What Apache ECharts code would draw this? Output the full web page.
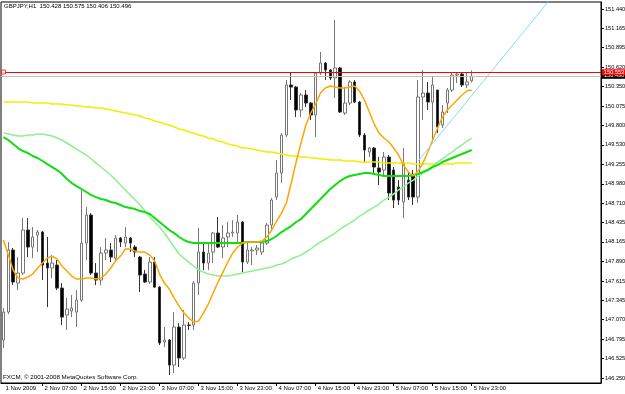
<!DOCTYPE html>
<html>
<head>
<meta charset="utf-8">
<script src="https://cdn.jsdelivr.net/npm/echarts@6/dist/echarts.min.js"></script>
<style>
html, body { margin: 0; padding: 0; background: #fff; }
#chart { width: 625px; height: 394px; }
</style>
</head>
<body>
<div id="chart"></div>
<script>
// GBPJPY H1, 1 Nov 23:00 .. 5 Nov 23:00 (97 bars)
var symbolName = 'GBPJPY,H1';

var opens = [
  146.784, 147.178, 148.050, 147.586, 147.726, 148.331, 148.092, 148.261, 148.303, 147.867,
  147.797, 147.839, 147.515, 147.136, 147.192, 147.178, 147.346, 148.148, 148.542, 147.726,
  147.628, 148.008, 148.050, 147.937, 148.219, 148.148, 148.219, 148.092, 147.951, 147.712,
  147.600, 147.881, 147.529, 146.756, 146.784, 146.432, 146.967, 146.531, 146.995, 146.995,
  147.586, 148.022, 147.867, 148.022, 148.289, 148.092, 148.233, 148.289, 148.289, 148.444,
  147.881, 148.036, 148.050, 148.022, 148.148, 148.401, 148.795, 149.133, 149.667, 150.371,
  150.342, 150.019, 150.230, 150.117, 149.949, 150.539, 150.680, 150.581, 150.469, 150.610,
  149.977, 150.117, 150.413, 150.131, 149.667, 149.428, 149.484, 149.203, 149.175, 149.358,
  149.175, 148.936, 148.725, 149.034, 149.105, 148.795, 150.202, 150.258, 150.131, 150.300,
  149.808, 150.117, 150.300, 150.511, 150.525, 150.371, 150.428
];
var closes = [
  147.178, 148.050, 147.600, 147.726, 148.331, 148.092, 148.233, 148.303, 147.839, 147.797,
  147.867, 147.515, 147.107, 147.220, 147.234, 147.346, 148.148, 148.542, 147.726, 147.628,
  148.008, 148.050, 147.951, 148.219, 148.162, 148.233, 148.148, 148.022, 147.698, 147.600,
  147.881, 147.529, 146.742, 146.784, 146.432, 146.967, 146.531, 146.995, 146.990, 147.586,
  148.022, 147.867, 148.008, 148.289, 148.092, 148.219, 148.289, 148.303, 148.444, 147.881,
  148.050, 148.050, 148.078, 148.148, 148.401, 148.753, 149.133, 149.667, 150.371, 150.342,
  150.019, 150.230, 150.117, 149.949, 150.539, 150.680, 150.581, 150.469, 150.610, 149.991,
  150.117, 150.413, 150.131, 149.667, 149.456, 149.484, 149.217, 149.147, 149.358, 148.851,
  148.753, 148.753, 149.273, 148.795, 148.795, 150.202, 150.258, 150.131, 150.371, 149.780,
  149.991, 150.300, 150.511, 150.525, 150.371, 150.413, 150.496
];
var lows = [
  146.671, 147.150, 147.557, 147.487, 147.698, 147.951, 147.937, 148.022, 147.628, 147.248,
  147.656, 147.487, 146.995, 146.925, 147.107, 146.967, 147.318, 147.909, 147.698, 147.557,
  147.557, 147.909, 147.881, 147.909, 148.092, 148.092, 148.022, 147.951, 147.459, 147.586,
  147.572, 147.515, 146.714, 146.685, 146.292, 146.320, 146.404, 146.503, 146.925, 146.925,
  147.417, 147.768, 147.768, 147.867, 148.078, 147.937, 148.092, 148.233, 148.148, 147.740,
  147.853, 147.839, 147.979, 147.979, 148.120, 148.331, 148.753, 148.992, 149.639, 150.160,
  149.920, 149.920, 150.061, 149.878, 149.639, 150.511, 150.441, 150.441, 150.188, 149.977,
  149.949, 150.089, 150.117, 149.639, 149.273, 149.358, 149.105, 148.964, 149.077, 148.753,
  148.640, 148.683, 148.500, 148.753, 148.683, 148.711, 149.878, 150.019, 149.597, 149.695,
  149.766, 149.977, 150.272, 150.399, 150.342, 150.328, 150.406
];
var highs = [
  147.234, 148.162, 148.078, 147.951, 148.500, 148.500, 148.373, 148.331, 148.317, 148.233,
  147.979, 147.909, 147.586, 147.375, 147.417, 147.487, 148.894, 148.654, 148.570, 147.867,
  148.092, 148.219, 148.148, 148.261, 148.233, 148.373, 148.233, 148.120, 147.965, 147.768,
  147.951, 147.951, 147.543, 146.967, 146.798, 147.178, 147.023, 147.206, 147.037, 147.614,
  148.359, 148.148, 148.148, 148.303, 148.514, 148.401, 148.444, 148.472, 148.542, 148.458,
  148.148, 148.092, 148.120, 148.162, 148.429, 148.781, 149.316, 149.695, 150.441, 150.553,
  150.356, 150.258, 150.300, 150.131, 150.553, 150.835, 150.694, 150.596, 151.285, 150.624,
  150.342, 150.441, 150.441, 150.145, 149.695, 149.498, 149.498, 149.358, 149.428, 149.386,
  149.217, 149.034, 149.484, 149.147, 149.175, 150.441, 150.581, 150.413, 150.483, 150.300,
  150.089, 150.328, 150.539, 150.553, 150.539, 150.539, 150.575
];

// moving averages
var maOrange = [
  148.191, 147.979, 147.769, 147.656, 147.642, 147.670, 147.712, 147.797, 147.867, 147.937,
  147.965, 147.923, 147.825, 147.754, 147.684, 147.642, 147.642, 147.656, 147.656, 147.642,
  147.656, 147.712, 147.797, 147.895, 147.965, 148.064, 148.064, 148.036, 148.022, 148.022,
  147.979, 147.895, 147.712, 147.586, 147.501, 147.375, 147.262, 147.164, 147.093, 147.037,
  147.051, 147.164, 147.290, 147.445, 147.600, 147.740, 147.881, 148.008, 148.092, 148.148,
  148.162, 148.162, 148.162, 148.176, 148.233, 148.331, 148.458, 148.570, 148.711, 148.992,
  149.288, 149.555, 149.808, 149.977, 150.103, 150.258, 150.328, 150.356, 150.342, 150.328,
  150.328, 150.342, 150.356, 150.286, 150.160, 149.991, 149.822, 149.695, 149.625, 149.569,
  149.484, 149.386, 149.245, 149.147, 149.090, 149.161, 149.273, 149.428, 149.597, 149.766,
  149.920, 150.019, 150.089, 150.160, 150.230, 150.286, 150.300
];
var maGreen = [
  149.639, 149.597, 149.541, 149.484, 149.442, 149.414, 149.372, 149.344, 149.302, 149.259,
  149.217, 149.175, 149.119, 149.048, 148.992, 148.950, 148.908, 148.866, 148.823, 148.795,
  148.767, 148.753, 148.725, 148.711, 148.683, 148.654, 148.640, 148.626, 148.598, 148.584,
  148.556, 148.500, 148.444, 148.387, 148.331, 148.289, 148.233, 148.191, 148.162, 148.148,
  148.148, 148.148, 148.148, 148.148, 148.148, 148.148, 148.148, 148.148, 148.148, 148.148,
  148.162, 148.162, 148.162, 148.162, 148.176, 148.205, 148.247, 148.303, 148.345, 148.387,
  148.444, 148.486, 148.556, 148.626, 148.697, 148.767, 148.838, 148.908, 148.964, 149.020,
  149.063, 149.091, 149.105, 149.119, 149.133, 149.133, 149.119, 149.105, 149.091, 149.091,
  149.091, 149.091, 149.091, 149.091, 149.105, 149.119, 149.147, 149.175, 149.217, 149.245,
  149.288, 149.316, 149.344, 149.372, 149.400, 149.428, 149.456
];
var maLight = [
  149.695, 149.681, 149.667, 149.653, 149.653, 149.667, 149.667, 149.681, 149.681, 149.667,
  149.653, 149.625, 149.597, 149.555, 149.513, 149.470, 149.428, 149.386, 149.330, 149.273,
  149.217, 149.161, 149.105, 149.034, 148.964, 148.894, 148.823, 148.753, 148.683, 148.598,
  148.514, 148.444, 148.373, 148.289, 148.191, 148.092, 147.994, 147.937, 147.881, 147.825,
  147.769, 147.740, 147.712, 147.698, 147.684, 147.684, 147.684, 147.698, 147.712, 147.726,
  147.740, 147.754, 147.769, 147.783, 147.797, 147.811, 147.839, 147.853, 147.881, 147.923,
  147.951, 147.979, 148.022, 148.064, 148.120, 148.162, 148.205, 148.247, 148.289, 148.345,
  148.387, 148.429, 148.472, 148.528, 148.570, 148.613, 148.654, 148.697, 148.753, 148.795,
  148.838, 148.894, 148.936, 148.992, 149.034, 149.091, 149.133, 149.189, 149.231, 149.288,
  149.330, 149.386, 149.428, 149.484, 149.527, 149.583, 149.625
];
var maYellow = [
  150.131, 150.131, 150.131, 150.131, 150.131, 150.131, 150.117, 150.117, 150.117, 150.117,
  150.103, 150.103, 150.103, 150.089, 150.089, 150.075, 150.075, 150.061, 150.061, 150.047,
  150.047, 150.033, 150.019, 150.005, 149.991, 149.977, 149.963, 149.949, 149.935, 149.906,
  149.892, 149.864, 149.850, 149.822, 149.808, 149.780, 149.752, 149.738, 149.709, 149.695,
  149.667, 149.653, 149.625, 149.611, 149.583, 149.569, 149.541, 149.527, 149.513, 149.484,
  149.484, 149.470, 149.456, 149.442, 149.428, 149.428, 149.414, 149.400, 149.386, 149.372,
  149.372, 149.358, 149.358, 149.344, 149.344, 149.330, 149.330, 149.316, 149.316, 149.316,
  149.302, 149.302, 149.302, 149.288, 149.288, 149.288, 149.288, 149.288, 149.273, 149.273,
  149.273, 149.273, 149.273, 149.273, 149.259, 149.259, 149.259, 149.259, 149.259, 149.259,
  149.259, 149.259, 149.259, 149.273, 149.273, 149.273, 149.273
];

// drawn objects: trend line (bar index, price) and horizontal level
var trendPoints = [[85, 149.300], [122, 152.410]];
var redLevel = 150.553;

// axis labels
var xTickIdx = [0, 8, 16, 24, 32, 40, 48, 56, 64, 72, 80, 88, 96];
var xTickText = ['1 Nov 2009', '2 Nov 07:00', '2 Nov 15:00', '2 Nov 23:00', '3 Nov 07:00', '3 Nov 15:00',
  '3 Nov 23:00', '4 Nov 07:00', '4 Nov 15:00', '4 Nov 23:00', '5 Nov 07:00', '5 Nov 15:00', '5 Nov 23:00'];
var yTicks = [151.440, 151.165, 150.895, 150.620, 150.350, 150.075, 149.800, 149.530, 149.255, 148.980,
  148.710, 148.435, 148.165, 147.890, 147.615, 147.345, 147.070, 146.795, 146.525, 146.250];

var font = "'Liberation Sans', Arial, sans-serif";
var last = opens.length - 1;
var bidLevel = closes[last];

var slots = 123;
var cats = [];
for (var i = 0; i < slots; i++) cats.push(String(i));

var candles = opens.map(function (o, i) { return [o, closes[i], lows[i], highs[i]]; });

function maLine(name, data, color, width) {
  return {
    name: name, type: 'line', data: data, showSymbol: false, symbol: 'none',
    lineStyle: { color: color, width: width }, z: 3, silent: true
  };
}

var chart = echarts.init(document.getElementById('chart'));
chart.setOption({
  animation: false,
  backgroundColor: '#fff',
  textStyle: { fontFamily: font },
  grid: { left: 1, right: 24, top: 2, bottom: 11, show: true, borderColor: '#000', borderWidth: 1,
    containLabel: false, outerBoundsMode: 'none' },
  graphic: [
    { type: 'text', left: 4, top: 3, style: {
      text: symbolName + '  ' + [opens[last], highs[last], lows[last], closes[last]].map(function (v) { return v.toFixed(3); }).join(' '),
      fontSize: 6, fontFamily: font, fill: '#000' } },
    { type: 'text', left: 3, top: 374, style: {
      text: 'FXCM, \u00a9 2001-2008 MetaQuotes Software Corp.', fontSize: 6.2, fontFamily: font, fill: '#000' } }
  ],
  xAxis: {
    type: 'category', data: cats, boundaryGap: true,
    axisLine: { show: true, lineStyle: { color: '#000' } },
    axisTick: { show: true, alignWithLabel: true, length: 3, lineStyle: { color: '#000' },
      interval: function (i) { return xTickIdx.indexOf(i) > 0; } },
    axisLabel: {
      interval: function (i) { return xTickIdx.indexOf(i) >= 0; },
      formatter: function (v, i) { var k = xTickIdx.indexOf(i); return k >= 0 ? xTickText[k] : ''; },
      align: 'left', fontSize: 6, color: '#000', margin: 2, padding: [0, 0, 0, 2], fontFamily: font
    },
    splitLine: { show: false }
  },
  yAxis: {
    type: 'value', position: 'right', min: 146.180, max: 151.538,
    axisLine: { show: true, lineStyle: { color: '#000' } },
    axisTick: { show: true, customValues: yTicks, length: 3, lineStyle: { color: '#000' } },
    axisLabel: { customValues: yTicks, formatter: function (v) { return v.toFixed(3); },
      fontSize: 5.6, color: '#000', margin: 4, fontFamily: font },
    splitLine: { show: false }
  },
  series: [
    {
      name: 'GBPJPY', type: 'candlestick', data: candles, barWidth: 3, z: 2,
      itemStyle: { color: '#fff', color0: '#000', borderColor: '#777', borderColor0: '#333', borderWidth: 1 },
      markLine: {
        silent: true, symbol: ['none', 'none'], animation: false,
        data: [
          { yAxis: bidLevel, lineStyle: { color: '#c0c0c0', type: 'solid', width: 1 },
            label: { position: 'end', distance: 1, formatter: bidLevel.toFixed(3), color: '#fff',
              backgroundColor: '#000', padding: [0, 1, 0, 2], fontSize: 5.6, lineHeight: 6, fontFamily: font } },
          { yAxis: redLevel, lineStyle: { color: '#ff0000', type: 'solid', width: 1 },
            label: { position: 'end', distance: 1, formatter: redLevel.toFixed(3), color: '#fff',
              backgroundColor: '#ff0000', padding: [0, 1, 0, 2], fontSize: 5.6, lineHeight: 6, fontFamily: font } }
        ]
      }
    },
    maLine('MA slow', maYellow, '#f2ee00', 1.5),
    maLine('MA light', maLight, '#90ee90', 1.5),
    maLine('MA green', maGreen, '#11dd11', 2),
    maLine('MA fast', maOrange, '#ffa500', 1.5),
    { name: 'trend', type: 'line', data: trendPoints, showSymbol: false, symbol: 'none',
      lineStyle: { color: '#7fdcff', width: 1 }, z: 4, silent: true },
    { name: 'level anchor', type: 'scatter', data: [[0, redLevel]], symbol: 'rect', symbolSize: 4,
      itemStyle: { color: '#fff', borderColor: '#ff0000', borderWidth: 1 }, z: 5, silent: true }
  ]
});
</script>
</body>
</html>
